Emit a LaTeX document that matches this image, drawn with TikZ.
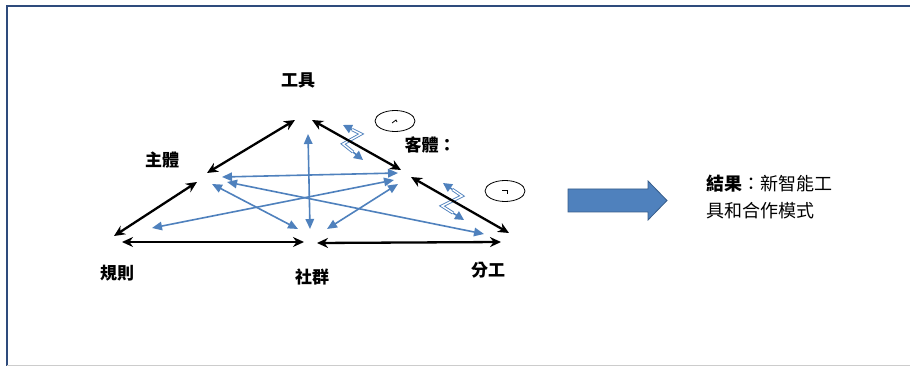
\documentclass[tikz,border=0pt]{standalone}
\usepackage{fontspec}
\newfontfamily\cjk{Noto Sans CJK TC}
\usetikzlibrary{arrows.meta,shapes.geometric,calc}
\definecolor{lblue}{HTML}{4F81BD}
\definecolor{dblue}{HTML}{385D8A}
\definecolor{navy}{HTML}{2E4B7C}
\tikzset{
  blk/.style={line width=2.3pt, {Stealth[length=11pt,width=10pt]}-{Stealth[length=11pt,width=10pt]}},
  blu/.style={lblue, line width=1.6pt, {Triangle[length=10pt,width=8.5pt]}-{Triangle[length=10pt,width=8.5pt]}},
  zig/.style={lblue, line width=0.9pt, double=white, double distance=1.4pt},
  zigtip/.style={lblue, line width=1.5pt, -{Triangle[length=9pt,width=9pt]}},
  lbl/.style={font=\cjk\bfseries\fontsize{17}{20}\selectfont, inner sep=0pt},
  res/.style={font=\cjk\fontsize{18}{27}\selectfont, inner sep=0pt, anchor=west},
  circ/.style={draw, line width=0.8pt, ellipse, minimum width=40pt, minimum height=21pt}
}
\begin{document}
\begin{tikzpicture}[x=1pt,y=-1pt]
\useasboundingbox (0,0) rectangle (910,366);
\fill[white] (0,0) rectangle (910,366);
% frame
\draw[navy, line width=2pt] (6.5,366) -- (6.5,6.5) -- (910,6.5);
\draw[gray!40, line width=1pt] (7,365) -- (910,365);

% labels
\node[lbl] (tool) at (298,80) {工具};
\node[lbl] (subj) at (162,160) {主體};
\node[lbl] (obj) at (430,145) {客體：};
\node[lbl] (rule) at (117,273) {規則};
\node[lbl] (comm) at (312,277) {社群};
\node[lbl] (div) at (488,270) {分工};

% blue endpoints
\coordinate (a1) at (222,177); \coordinate (a2) at (398,173);
\coordinate (b1) at (227,182); \coordinate (b2) at (484,234);
\coordinate (c1) at (152,228); \coordinate (c2) at (394,180);
\coordinate (d1) at (212,184); \coordinate (d2) at (298,229);
\coordinate (e1) at (308,134); \coordinate (e2) at (310,229);
\coordinate (f1) at (327,229); \coordinate (f2) at (398,184);
\draw[blu] (a1) -- (a2);
\draw[blu] (b1) -- (b2);
\draw[blu] (c1) -- (c2);
\draw[blu] (d1) -- (d2);
\draw[blu] (e1) -- (e2);
\draw[blu] (f1) -- (f2);

% zigzags
\coordinate (z1) at (343,125); \coordinate (z2) at (361,134);
\coordinate (z3) at (343,144); \coordinate (z4) at (363,160);
\coordinate (z1b) at ($(z1)!0.5!(z2)$); \coordinate (z4b) at ($(z4)!0.5!(z3)$);
\draw[zig] (z1b) -- (z2) -- (z3) -- (z4b);
\draw[zigtip] (z1b) -- (z1);
\draw[zigtip] (z4b) -- (z4);
\coordinate (y1) at (443,183); \coordinate (y2) at (462,196);
\coordinate (y3) at (442,206); \coordinate (y4) at (464,220);
\coordinate (y1b) at ($(y1)!0.5!(y2)$); \coordinate (y4b) at ($(y4)!0.5!(y3)$);
\draw[zig] (y1b) -- (y2) -- (y3) -- (y4b);
\draw[zigtip] (y1b) -- (y1);
\draw[zigtip] (y4b) -- (y4);

% black endpoints
\coordinate (T1) at (295,120);
\coordinate (T2) at (312,120);
\coordinate (S1) at (207,173);
\coordinate (S2) at (197,182);
\coordinate (R1) at (114,236);
\coordinate (R2) at (122,242);
\coordinate (C1) at (304,242);
\coordinate (C2) at (317,243);
\coordinate (D2) at (501,242);
\coordinate (D1) at (509,233);
\coordinate (O1) at (401,170);
\coordinate (O2) at (411,177);

\draw[blk] (T1) -- (S1);
\draw[blk] (S2) -- (R1);
\draw[blk] (R2) -- (C1);
\draw[blk] (C2) -- (D2);
\draw[blk] (D1) -- (O2);
\draw[blk] (O1) -- (T2);

% circles
\node[circ] (k1) at (395,121) {};
\draw[line width=0.8pt] ([shift={(-3,2)}]k1.center) -- ([shift={(1,-1)}]k1.center) -- ([shift={(2,1)}]k1.center);
\node[circ] (k2) at (505,191) {};
\draw[line width=0.8pt] ([shift={(-3,-1)}]k2.center) -- ([shift={(2,-1)}]k2.center) -- ([shift={(2,3)}]k2.center);

% block arrow
\draw[dblue, fill=lblue, line width=0.8pt] (568,189) -- (648,189) -- (648,181) -- (667,200.5) -- (648,220) -- (648,212) -- (568,212) -- cycle;

% result text
\node[res] (r1) at (706,184) {{\bfseries 結果}：新智能工};
\node[res] (r2) at (706,211) {具和合作模式};
\end{tikzpicture}
\end{document}
